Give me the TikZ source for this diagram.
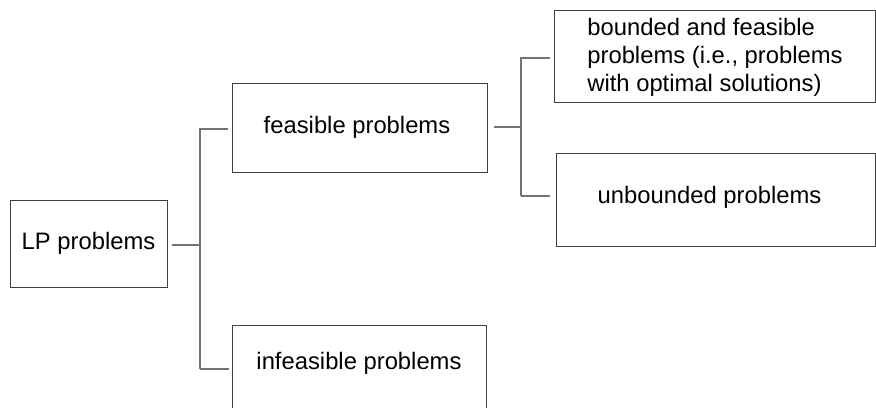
\documentclass[tikz,border=0pt]{standalone}
\usepackage{fontspec}
\setmainfont{Liberation Sans}
\begin{document}
\begin{tikzpicture}[x=0.5pt,y=-0.5pt,
  box/.style={draw=black!75, line width=0.5pt, rectangle, inner sep=0pt,
    font=\fontsize{11.9}{14}\selectfont, align=left},
  conn/.style={draw=black!55, line width=0.6pt}]
\useasboundingbox (0,0) rectangle (876,407);
% boxes
\node[box, minimum width=78.5pt, minimum height=43.5pt] (lp) at (88.5,243.5) {};
\node at (88.5,243) {\fontsize{11.9}{14}\selectfont LP problems};
\node[box, minimum width=127.5pt, minimum height=44.5pt] (feas) at (359.5,127.5) {};
\node at (357,127) {\fontsize{11.9}{14}\selectfont feasible problems};
\node[box, minimum width=127pt, minimum height=44.5pt] (infeas) at (359,369.5) {};
\node at (359,363) {\fontsize{11.9}{14}\selectfont infeasible problems};
\node[box, minimum width=160.5pt, minimum height=46pt] (bnd) at (714.5,56) {};
\node[align=left, font=\fontsize{11.9}{14}\selectfont] at (715,57) {bounded and feasible\\problems (i.e., problems\\with optimal solutions)};
\node[box, minimum width=159.5pt, minimum height=46.5pt] (unb) at (715.5,199.5) {};
\node at (709.5,197) {\fontsize{11.9}{14}\selectfont unbounded problems};
% connectors, left
\coordinate (j1) at (200,245);
\coordinate (a1) at (200,129);
\coordinate (a2) at (200,369);
\draw[conn, shorten <=2pt] (lp.east |- j1) -- (j1);
\draw[conn, shorten >=2pt] (a2) -- (a1) -- (a1 -| feas.west);
\draw[conn, shorten >=1.5pt] (a2) -- (a2 -| infeas.west);
% connectors, right
\coordinate (j2) at (521,127);
\coordinate (b1) at (521,58);
\coordinate (b2) at (521,196);
\draw[conn, shorten <=3pt] (feas.east |- j2) -- (j2);
\draw[conn, shorten >=2pt] (b2) -- (b1) -- (b1 -| bnd.west);
\draw[conn, shorten >=3pt] (b2) -- (b2 -| unb.west);
\end{tikzpicture}
\end{document}
